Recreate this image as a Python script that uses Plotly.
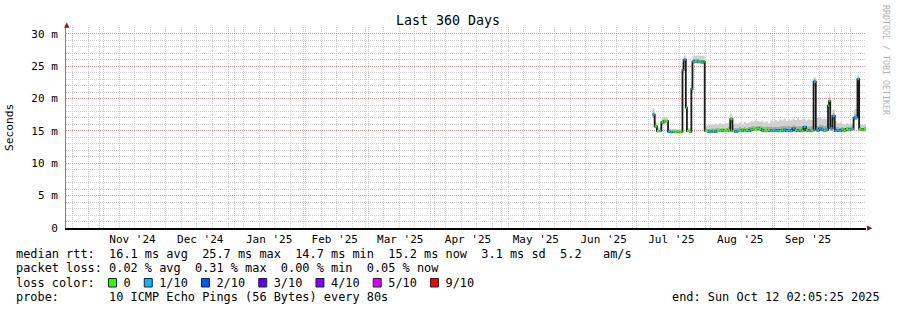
import plotly.graph_objects as go

# ---------------- data ----------------
times = [
    "2025-07-08 00:00", "2025-07-09 00:00", "2025-07-10 00:00", "2025-07-11 00:00", "2025-07-12 00:00",
    "2025-07-13 00:00", "2025-07-14 00:00", "2025-07-15 00:00", "2025-07-16 00:00", "2025-07-17 00:00",
    "2025-07-18 00:00", "2025-07-19 00:00", "2025-07-20 00:00", "2025-07-21 00:00", "2025-07-21 12:00",
    "2025-07-22 00:00", "2025-07-22 12:00", "2025-07-23 00:00", "2025-07-23 12:00", "2025-07-24 00:00",
    "2025-07-25 00:00", "2025-07-25 12:00", "2025-07-26 00:00", "2025-07-27 00:00", "2025-07-28 00:00",
    "2025-07-29 00:00", "2025-07-30 00:00", "2025-07-31 00:00", "2025-07-31 12:00",
    "2025-08-01 00:00", "2025-08-02 00:00", "2025-08-03 00:00", "2025-08-04 00:00", "2025-08-05 00:00",
    "2025-08-06 00:00", "2025-08-07 00:00", "2025-08-08 00:00", "2025-08-09 00:00", "2025-08-10 00:00",
    "2025-08-11 00:00", "2025-08-12 00:00", "2025-08-13 00:00", "2025-08-14 00:00", "2025-08-15 00:00",
    "2025-08-16 00:00", "2025-08-17 00:00", "2025-08-18 00:00", "2025-08-19 00:00", "2025-08-20 00:00",
    "2025-08-21 00:00", "2025-08-22 00:00", "2025-08-23 00:00", "2025-08-24 00:00", "2025-08-25 00:00",
    "2025-08-26 00:00", "2025-08-27 00:00", "2025-08-28 00:00", "2025-08-29 00:00", "2025-08-30 00:00",
    "2025-08-31 00:00",
    "2025-09-01 00:00", "2025-09-02 00:00", "2025-09-03 00:00", "2025-09-04 00:00", "2025-09-05 00:00",
    "2025-09-06 00:00", "2025-09-07 00:00", "2025-09-08 00:00", "2025-09-09 00:00", "2025-09-10 00:00",
    "2025-09-11 00:00", "2025-09-12 00:00", "2025-09-13 00:00", "2025-09-14 00:00", "2025-09-15 00:00",
    "2025-09-16 00:00", "2025-09-17 00:00", "2025-09-18 12:00", "2025-09-19 12:00", "2025-09-20 00:00",
    "2025-09-21 00:00", "2025-09-22 00:00", "2025-09-23 00:00", "2025-09-24 00:00", "2025-09-25 00:00",
    "2025-09-25 12:00", "2025-09-26 00:00", "2025-09-27 00:00", "2025-09-28 00:00", "2025-09-29 00:00",
    "2025-09-30 00:00",
    "2025-10-01 00:00", "2025-10-02 00:00", "2025-10-03 00:00", "2025-10-04 00:00", "2025-10-05 00:00",
    "2025-10-06 12:00", "2025-10-07 00:00", "2025-10-08 06:00", "2025-10-09 00:00", "2025-10-10 00:00",
    "2025-10-11 00:00", "2025-10-12 02:00",
]

median_ms = [
    17.5, 15.7, 15.0, 15.0, 16.3, 16.5, 16.5, 14.9, 14.8, 14.9,
    14.8, 14.9, 14.8, 14.9, 24.4, 25.9, 26.0, 18.6, 15.0, 15.0,
    14.9, 21.5, 25.7, 25.8, 25.7, 25.7, 25.6, 25.7, 15.0,
    15.0, 14.9, 14.9, 15.0, 14.9, 15.0, 15.0, 15.1, 15.0, 15.0,
    15.1, 16.8, 15.0, 14.9, 15.0, 15.0, 15.1, 15.0, 15.1, 15.0,
    15.2, 15.3, 15.3, 15.4, 15.3, 15.1, 15.0, 15.0, 15.1, 15.0,
    15.1,
    15.0, 15.1, 15.0, 15.1, 15.2, 15.0, 15.1, 15.0, 15.4, 15.1,
    15.0, 15.1, 15.0, 15.6, 15.1, 15.0, 15.1, 22.6, 15.2, 15.1,
    15.4, 15.2, 15.1, 15.2, 18.9, 19.6, 15.4, 17.3, 15.0, 15.1,
    15.0,
    15.2, 15.1, 15.3, 15.2, 15.3, 17.0, 17.1, 23.0, 15.3, 15.2,
    15.3, 15.2,
]

smoke_lo_ms = [
    17.0, 15.4, 14.8, 14.8, 16.0, 16.2, 16.2, 14.7, 14.7, 14.7,
    14.7, 14.7, 14.7, 14.7, 23.8, 25.5, 25.6, 18.0, 14.8, 14.8,
    14.7, 21.0, 25.4, 25.5, 25.4, 25.4, 25.4, 25.4, 14.8,
    14.8, 14.7, 14.7, 14.7, 14.7, 14.8, 14.8, 14.8, 14.8, 14.8,
    14.8, 16.2, 14.8, 14.7, 14.7, 14.8, 14.8, 14.8, 14.8, 14.8,
    14.9, 15.0, 15.0, 15.0, 15.0, 14.8, 14.8, 14.8, 14.8, 14.8,
    14.8,
    14.8, 14.8, 14.8, 14.8, 14.9, 14.8, 14.8, 14.8, 15.0, 14.8,
    14.8, 14.8, 14.8, 15.2, 14.8, 14.8, 14.8, 22.0, 14.9, 14.8,
    15.0, 14.9, 14.8, 14.9, 18.3, 19.0, 15.0, 16.8, 14.8, 14.8,
    14.8,
    14.9, 14.8, 15.0, 14.9, 15.0, 16.6, 16.7, 22.4, 15.0, 14.9,
    15.0, 14.9,
]

smoke_q_ms = [
    17.9, 15.9, 15.2, 15.2, 16.6, 16.8, 16.8, 15.1, 15.0, 15.0,
    15.0, 15.0, 15.0, 15.0, 24.9, 26.2, 26.3, 19.0, 15.1, 15.1,
    15.1, 21.9, 26.1, 26.1, 26.1, 26.0, 26.0, 26.0, 15.3,
    15.3, 15.3, 15.4, 15.4, 15.4, 15.5, 15.4, 15.5, 15.4, 15.5,
    15.6, 17.2, 15.5, 15.5, 15.5, 15.6, 15.5, 15.6, 15.5, 15.6,
    15.7, 15.8, 15.7, 15.8, 15.8, 15.7, 15.6, 15.7, 15.6, 15.7,
    15.6,
    15.7, 15.6, 15.7, 15.8, 15.8, 15.7, 15.8, 15.7, 15.9, 15.8,
    15.7, 15.8, 15.7, 16.0, 15.7, 15.7, 15.8, 23.0, 15.8, 15.8,
    16.0, 15.9, 15.8, 15.9, 19.5, 20.2, 16.0, 17.8, 15.6, 15.6,
    15.5,
    15.6, 15.5, 15.6, 15.6, 15.7, 17.4, 17.6, 23.4, 15.6, 15.5,
    15.6, 15.5,
]

smoke_hi_ms = [
    18.5, 16.3, 15.5, 15.6, 17.0, 17.2, 17.1, 15.4, 15.3, 15.3,
    15.3, 15.3, 15.2, 15.3, 25.6, 26.6, 26.7, 19.5, 15.4, 15.4,
    15.4, 22.4, 26.6, 26.6, 26.7, 26.6, 26.6, 26.5, 15.8,
    15.8, 15.9, 16.0, 15.9, 16.1, 16.0, 16.2, 16.0, 16.1, 16.2,
    16.3, 17.7, 16.0, 16.2, 16.1, 16.3, 16.0, 16.4, 16.2, 16.3,
    16.5, 16.4, 16.6, 16.5, 16.4, 16.6, 16.3, 16.5, 16.2, 16.6,
    16.4,
    16.7, 16.5, 16.8, 16.6, 16.9, 16.5, 16.8, 16.6, 16.9, 16.7,
    17.0, 16.7, 16.8, 16.9, 16.6, 16.8, 16.7, 23.3, 16.9, 17.0,
    17.1, 16.8, 16.9, 16.8, 20.0, 20.8, 16.9, 18.3, 16.5, 16.2,
    16.3,
    16.1, 16.0, 16.2, 16.0, 16.1, 18.2, 18.4, 23.7, 16.0, 15.9,
    16.0, 15.9,
]

loss_of10 = [
    1, 0, 0, 1, 0, 0, 0, 1, 1, 0,
    0, 0, 0, 0, 1, 1, 1, 0, 0, 0,
    0, 1, 1, 0, 1, 0, 1, 0, 0,
    0, 1, 1, 0, 1, 0, 0, 0, 0, 0,
    0, 0, 0, 1, 1, 0, 0, 0, 0, 1,
    0, 0, 0, 0, 0, 1, 0, 0, 0, 1,
    0,
    1, 1, 0, 0, 1, 1, 1, 1, 1, 0,
    1, 0, 0, 1, 0, 1, 0, 1, 1, 1,
    1, 1, 0, 1, 0, 0, 1, 1, 1, 1,
    1,
    0, 0, 0, 0, 1, 1, 1, 1, 0, 0,
    0, 0,
]

y_tick_vals = [0, 5, 10, 15, 20, 25, 30]
y_tick_text = ["0", "5 m", "10 m", "15 m", "20 m", "25 m", "30 m"]

loss_labels = ["0", "1/10", "2/10", "3/10", "4/10", "5/10", "9/10"]
loss_counts = [0, 1, 2, 3, 4, 5, 9]
loss_colors = ["#26ff00", "#00b8ff", "#0059ff", "#5e00ff", "#7e00ff", "#dd00ff", "#ff0000"]

range_start = "2024-10-17 02:05:25"
range_end = "2025-10-12 02:05:25"

stats_line1 = "median rtt:  16.1 ms avg  25.7 ms max  14.7 ms min  15.2 ms now  3.1 ms sd  5.2   am/s"
stats_line2 = "packet loss: 0.02 % avg  0.31 % max  0.00 % min  0.05 % now"
probe_line = "probe:       10 ICMP Echo Pings (56 Bytes) every 80s"
end_line = "end: Sun Oct 12 02:05:25 2025"

n = len(times)
assert all(len(a) == n for a in [median_ms, smoke_lo_ms, smoke_q_ms, smoke_hi_ms, loss_of10])

# ---------------- figure ----------------
W, H = 897, 310
ML, MR, MT, MB = 66, 31, 27, 82
PW, PH = W - ML - MR, H - MT - MB
FONT = "DejaVu Sans Mono"
CHAR_W = 7.154   # advance of the legend font (px)
LEG_X0 = 16      # left edge of legend text (px)


def px_x(px):
    return (px - ML) / PW


def px_y(py):
    return (MT + PH - py) / PH


fig = go.Figure()

# smoke
fig.add_trace(go.Scatter(x=times, y=smoke_lo_ms, mode="lines", line=dict(width=0, shape="hv"),
                         hoverinfo="skip", showlegend=False))
fig.add_trace(go.Scatter(x=times, y=smoke_q_ms, mode="lines", line=dict(width=0, shape="hv"),
                         fill="tonexty", fillcolor="#a9a9a9", hoverinfo="skip", showlegend=False))
fig.add_trace(go.Scatter(x=times, y=smoke_hi_ms, mode="lines", line=dict(width=0, shape="hv"),
                         fill="tonexty", fillcolor="#d0d0d0", hoverinfo="skip", showlegend=False))

# median (black connecting line)
fig.add_trace(go.Scatter(x=times, y=median_ms, mode="lines", line=dict(color="#1a1a1a", width=1.8, shape="hv"),
                         showlegend=False))

# median coloured by loss
for cnt, col in zip(loss_counts, loss_colors):
    xs, ys = [], []
    for i in range(n - 1):
        if loss_of10[i] == cnt:
            xs += [times[i], times[i + 1], None]
            ys += [median_ms[i], median_ms[i], None]
    if xs:
        fig.add_trace(go.Scatter(x=xs, y=ys, mode="lines", line=dict(color=col, width=2.2),
                                 connectgaps=False, showlegend=False))

grid_minor = "#cdcdcd"
grid_major = "rgba(255,0,0,0.28)"

fig.update_layout(
    width=W, height=H,
    margin=dict(l=ML, r=MR, t=MT, b=MB, pad=0),
    paper_bgcolor="white", plot_bgcolor="white",
    showlegend=False,
    font=dict(family=FONT, size=11, color="#000000"),
    xaxis=dict(
        type="date", range=[range_start, range_end],
        tick0="2024-11-01", dtick="M1", ticklabelmode="period", tickformat="%b '%y",
        showgrid=True, gridcolor=grid_major, griddash="1px,1px", gridwidth=1,
        minor=dict(tick0="2024-10-20", dtick=7 * 86400000, showgrid=True,
                   gridcolor=grid_minor, griddash="1px,1px", gridwidth=1),
        showline=True, linecolor="#000000", linewidth=1.5, zeroline=False,
        ticks="", tickfont=dict(family=FONT, size=11, color="#000000"),
    ),
    yaxis=dict(
        range=[0, 31.05], tickmode="array", tickvals=y_tick_vals, ticktext=y_tick_text,
        showgrid=True, gridcolor=grid_major, griddash="1px,1px", gridwidth=1,
        minor=dict(tick0=0, dtick=1, showgrid=True, gridcolor=grid_minor, griddash="1px,1px", gridwidth=1),
        showline=True, linecolor="#808080", linewidth=1, zeroline=False,
        ticks="", ticklabelstandoff=5, tickfont=dict(family=FONT, size=11, color="#000000"),
    ),
)

ann = []
ann.append(dict(text="Last 360 Days", xref="paper", yref="paper", x=px_x(448), y=px_y(20),
                xanchor="center", yanchor="middle", showarrow=False,
                font=dict(family=FONT, size=13.3, color="#000000")))
ann.append(dict(text="Seconds", xref="paper", yref="paper", x=px_x(10), y=px_y(127),
                xanchor="center", yanchor="middle", textangle=-90, showarrow=False,
                font=dict(family=FONT, size=11.2, color="#000000")))
ann.append(dict(text="RRDTOOL / TOBI OETIKER", xref="paper", yref="paper", x=px_x(886), y=px_y(60),
                xanchor="center", yanchor="middle", textangle=90, showarrow=False,
                font=dict(family=FONT, size=8.3, color="#b4b4b4")))
ann.append(dict(text="▲", xref="paper", yref="paper", x=px_x(66.5), y=px_y(24.5),
                xanchor="center", yanchor="middle", showarrow=False, borderpad=0,
                font=dict(family="DejaVu Sans", size=7, color="#7f1a1a")))
ann.append(dict(text="▶", xref="paper", yref="paper", x=px_x(869.5), y=px_y(228),
                xanchor="center", yanchor="middle", showarrow=False, borderpad=0,
                font=dict(family="DejaVu Sans", size=7, color="#7f1a1a")))

LEG_FONT = dict(family=FONT, size=11.9, color="#000000")
LX = px_x(LEG_X0 - 2)
ann.append(dict(text=stats_line1, xref="paper", yref="paper", x=LX, y=px_y(254),
                xanchor="left", yanchor="middle", showarrow=False, font=LEG_FONT))
ann.append(dict(text=stats_line2, xref="paper", yref="paper", x=LX, y=px_y(268.3),
                xanchor="left", yanchor="middle", showarrow=False, font=LEG_FONT))

# loss colour line: text with blank cells where the colour swatches sit
loss_txt = "loss color:  "
swatch_cols = []
for lab in loss_labels:
    swatch_cols.append(len(loss_txt))
    loss_txt += "  " + lab + "  "
ann.append(dict(text=loss_txt.rstrip(), xref="paper", yref="paper", x=LX, y=px_y(282.6),
                xanchor="left", yanchor="middle", showarrow=False, font=LEG_FONT))

shapes = []
for c, col in zip(swatch_cols, loss_colors):
    x0 = LEG_X0 + c * CHAR_W - 0.5
    shapes.append(dict(type="rect", xref="paper", yref="paper",
                       x0=px_x(x0), x1=px_x(x0 + 8), y0=px_y(287), y1=px_y(278.5),
                       fillcolor=col, line=dict(color="#222222", width=1), layer="above"))

ann.append(dict(text=probe_line, xref="paper", yref="paper", x=LX, y=px_y(296.7),
                xanchor="left", yanchor="middle", showarrow=False, font=LEG_FONT))
ann.append(dict(text=end_line, xref="paper", yref="paper", x=px_x(882), y=px_y(296.7),
                xanchor="right", yanchor="middle", showarrow=False, font=LEG_FONT))

fig.update_layout(annotations=ann, shapes=shapes)

fig.write_html("out.html")
